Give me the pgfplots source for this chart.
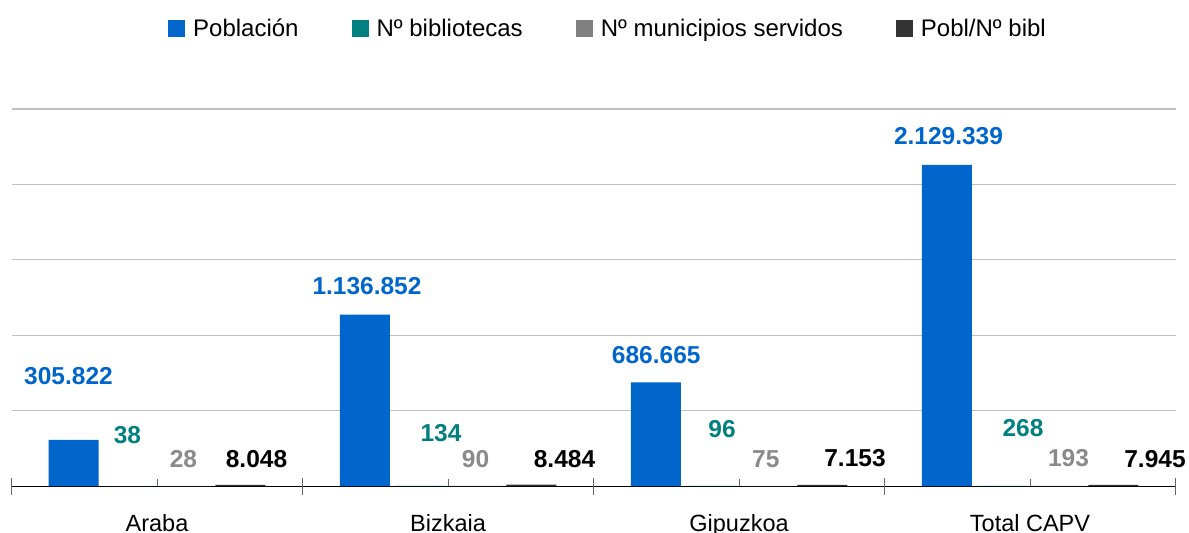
\documentclass[border=0pt]{standalone}
\usepackage{fontspec}
\setmainfont{Liberation Sans}
\usepackage{pgfplots}
\usepackage{pgfplotstable}
\pgfplotsset{compat=1.18}
\definecolor{cblue}{HTML}{0066CC}
\definecolor{cteal}{HTML}{008080}
\definecolor{cgray}{HTML}{808080}
\definecolor{cdark}{HTML}{333333}
\definecolor{cgraytxt}{HTML}{8A8A8A}
\definecolor{cgrid}{HTML}{C0C0C0}

\pgfplotstableread{
x y lab dx dy
0 305822 305.822 -5.25 63.9
1 1136852 1.136.852 2.25 28.1
2 686665 686.665 0.5 27.4
3 2129339 2.129.339 1.75 28.4
}\tpob
\pgfplotstableread{
x y lab dx dy
0 38 38 -1.75 51
1 134 134 20.75 53
2 96 96 10.75 57
3 268 268 20.75 57.5
}\tbib
\pgfplotstableread{
x y lab dx dy
0 28 28 -1.25 27
1 90 90 -0.25 27
2 75 75 -1 27.3
3 193 193 10.75 27.5
}\tmun
\pgfplotstableread{
x y lab dx dy
0 8048 8.048 16.25 25.8
1 8484 8.484 33.25 25.7
2 7153 7.153 32.75 27
3 7945 7.945 41.75 25.8
}\tratio

\begin{document}
\begin{tikzpicture}
\begin{axis}[
  scale only axis, width=1164bp, height=377bp,
  clip=false,
  ybar=5.5bp, bar width=50bp,
  xmin=-0.5, xmax=3.5, ymin=0, ymax=2500000,
  axis x line*=bottom, axis y line*=left,
  y axis line style={draw=none},
  x axis line style={black, line width=1bp},
  xtick={0,1,2,3},
  xticklabels={Araba,Bizkaia,Gipuzkoa,Total CAPV},
  tick style={black!60, line width=1bp},
  tick align=inside, major tick length=7.5bp,
  extra x ticks={-0.5,0.5,1.5,2.5,3.5},
  extra x tick labels={},
  extra x tick style={tick align=center, major tick length=17bp},
  xticklabel style={font=\fontsize{23.5bp}{28bp}\selectfont, anchor=base, inner sep=0pt, yshift=-45bp},
  ytick=\empty,
  extra y ticks={500000,1000000,1500000,2000000,2500000},
  extra y tick labels={},
  extra y tick style={grid=major, major tick length=0pt},
  grid style={cgrid, line width=1.3bp},
  legend columns=4,
  legend style={at={(0.5116,1.2135)}, anchor=center, draw=none, fill=none,
    inner sep=0pt, font=\fontsize{24bp}{28bp}\selectfont,
    column sep=8bp,
    /tikz/every even column/.append style={column sep=53bp},
    nodes={inner sep=0pt}},
  legend image code/.code={\fill[#1] (0bp,-8.5bp) rectangle (17bp,8.5bp);},
  point meta=explicit symbolic,
  nodes near coords,
  nodes near coords align={center},
  visualization depends on={\thisrow{dx}\as\dx},
  visualization depends on={\thisrow{dy}\as\dy},
  every node near coord/.append style={anchor=center, xshift={\dx*1bp}, yshift={\dy*1bp},
    font=\fontsize{24.5bp}{28bp}\selectfont\bfseries, inner sep=0pt},
]
\coordinate (BL) at (rel axis cs:0,0);
\coordinate (TR) at (rel axis cs:1,1);
\addplot[fill=cblue, draw=none, every node near coord/.append style={text=cblue}] table[x=x,y=y,meta=lab] {\tpob};
\addlegendentry{Población}
\addplot[fill=cteal, draw=none, every node near coord/.append style={text=cteal}] table[x=x,y=y,meta=lab] {\tbib};
\addlegendentry{Nº bibliotecas}
\addplot[fill=cgray, draw=none, every node near coord/.append style={text=cgraytxt}] table[x=x,y=y,meta=lab] {\tmun};
\addlegendentry{Nº municipios servidos}
\addplot[fill=cdark, draw=none, every node near coord/.append style={text=black}] table[x=x,y=y,meta=lab] {\tratio};
\addlegendentry{Pobl/Nº bibl}
\end{axis}
\pgfresetboundingbox
\path[use as bounding box] ([shift={(-11.5bp,-46bp)}]BL) rectangle ([shift={(13.5bp,109bp)}]TR);
\end{tikzpicture}
\end{document}
